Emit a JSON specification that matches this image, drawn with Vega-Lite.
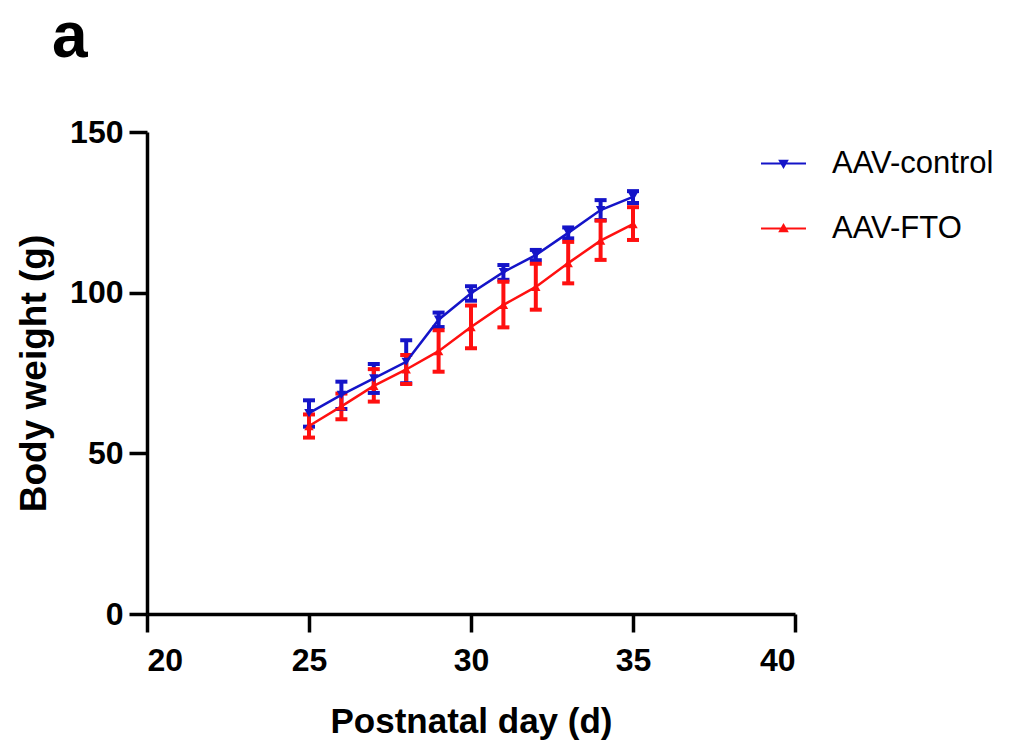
{
  "$schema": "https://vega.github.io/schema/vega-lite/v6.json",
  "width": 648,
  "height": 482,
  "autosize": "none",
  "padding": {"left": 147, "top": 132, "right": 228, "bottom": 138},
  "background": "white",
  "title": {"text": "a", "anchor": "start", "frame": "group", "fontSize": 64, "fontWeight": "bold", "font": "Liberation Sans", "color": "black", "dx": -95, "offset": 46},
  "config": {
    "view": {"stroke": null},
    "font": "Liberation Sans",
    "axis": {"grid": false, "domainColor": "black", "domainWidth": 3.5, "tickColor": "black", "tickWidth": 3.5, "tickSize": 18, "labelFont": "Liberation Sans", "labelFontWeight": "bold", "labelFontSize": 32, "labelColor": "black", "titleFont": "Liberation Sans", "titleFontWeight": "bold", "titleColor": "black"}
  },
  "data": {"values": [
    {"day": 25, "series": "AAV-control", "mean": 62.5, "lo": 58.3, "hi": 66.5},
    {"day": 26, "series": "AAV-control", "mean": 68.2, "lo": 63.8, "hi": 72.3},
    {"day": 27, "series": "AAV-control", "mean": 73.3, "lo": 68.8, "hi": 77.8},
    {"day": 28, "series": "AAV-control", "mean": 78.5, "lo": 71.8, "hi": 85.2},
    {"day": 29, "series": "AAV-control", "mean": 91.6, "lo": 89.3, "hi": 93.8},
    {"day": 30, "series": "AAV-control", "mean": 99.8, "lo": 97.5, "hi": 102.0},
    {"day": 31, "series": "AAV-control", "mean": 106.4, "lo": 104.0, "hi": 108.6},
    {"day": 32, "series": "AAV-control", "mean": 111.7, "lo": 110.1, "hi": 113.3},
    {"day": 33, "series": "AAV-control", "mean": 118.6, "lo": 116.9, "hi": 120.3},
    {"day": 34, "series": "AAV-control", "mean": 125.7, "lo": 122.6, "hi": 128.8},
    {"day": 35, "series": "AAV-control", "mean": 129.8, "lo": 127.9, "hi": 131.6},
    {"day": 25, "series": "AAV-FTO", "mean": 58.5, "lo": 54.9, "hi": 62.1},
    {"day": 26, "series": "AAV-FTO", "mean": 64.6, "lo": 60.6, "hi": 68.6},
    {"day": 27, "series": "AAV-FTO", "mean": 71.0, "lo": 66.1, "hi": 76.2},
    {"day": 28, "series": "AAV-FTO", "mean": 76.1, "lo": 71.6, "hi": 80.6},
    {"day": 29, "series": "AAV-FTO", "mean": 81.8, "lo": 75.4, "hi": 88.3},
    {"day": 30, "series": "AAV-FTO", "mean": 89.3, "lo": 82.7, "hi": 96.0},
    {"day": 31, "series": "AAV-FTO", "mean": 96.2, "lo": 89.2, "hi": 103.4},
    {"day": 32, "series": "AAV-FTO", "mean": 101.8, "lo": 94.7, "hi": 109.0},
    {"day": 33, "series": "AAV-FTO", "mean": 109.2, "lo": 102.9, "hi": 115.8},
    {"day": 34, "series": "AAV-FTO", "mean": 116.2, "lo": 110.2, "hi": 122.4},
    {"day": 35, "series": "AAV-FTO", "mean": 121.3, "lo": 116.4, "hi": 126.6}
  ]},
  "encoding": {
    "x": {"field": "day", "type": "quantitative", "scale": {"domain": [20, 40], "nice": false, "zero": false}, "axis": {"values": [20, 25, 30, 35, 40], "title": "Postnatal day (d)", "titleFontSize": 35, "labelPadding": 13, "titlePadding": 28}},
    "color": {"field": "series", "type": "nominal", "scale": {"domain": ["AAV-control", "AAV-FTO"], "range": ["#1414c8", "#ff1010"]},
      "legend": {"title": null, "orient": "none", "legendX": 613, "legendY": 8, "padding": 0, "symbolSize": 2025, "symbolStrokeWidth": 2, "labelFontSize": 31, "labelFont": "Liberation Sans", "labelColor": "black", "labelOffset": 25, "rowPadding": 26, "labelLimit": 300,
        "encode": {"symbols": {"update": {
          "shape": {"signal": "datum.value === 'AAV-control' ? 'M-1,0L1,0M-0.16,-0.12L0.16,-0.12L0,0.16Z' : 'M-1,0L1,0M-0.16,0.12L0.16,0.12L0,-0.16Z'"},
          "fill": {"signal": "datum.value === 'AAV-control' ? '#1414c8' : '#ff1010'"},
          "stroke": {"signal": "datum.value === 'AAV-control' ? '#1414c8' : '#ff1010'"},
          "strokeWidth": {"value": 2},
          "opacity": {"value": 1}
        }}}
      }
    }
  },
  "layer": [
    {
      "mark": {"type": "rule", "strokeWidth": 4, "opacity": 1},
      "encoding": {
        "y": {"field": "lo", "type": "quantitative", "scale": {"domain": [0, 150], "nice": false}, "axis": {"values": [0, 50, 100, 150], "title": "Body weight (g)", "titleFontSize": 37, "labelPadding": 6, "titlePadding": 16}},
        "y2": {"field": "hi"}
      }
    },
    {
      "mark": {"type": "tick", "orient": "horizontal", "size": 12, "thickness": 4, "opacity": 1},
      "encoding": {"y": {"field": "lo", "type": "quantitative"}}
    },
    {
      "mark": {"type": "tick", "orient": "horizontal", "size": 12, "thickness": 4, "opacity": 1},
      "encoding": {"y": {"field": "hi", "type": "quantitative"}}
    },
    {
      "mark": {"type": "line", "strokeWidth": 2.5},
      "encoding": {"y": {"field": "mean", "type": "quantitative"}}
    },
    {
      "transform": [{"filter": "datum.series === 'AAV-control'"}],
      "mark": {"type": "point", "filled": true, "opacity": 1, "size": 90, "shape": "triangle-down"},
      "encoding": {"y": {"field": "mean", "type": "quantitative"}}
    },
    {
      "transform": [{"filter": "datum.series === 'AAV-FTO'"}],
      "mark": {"type": "point", "filled": true, "opacity": 1, "size": 90, "shape": "triangle-up"},
      "encoding": {"y": {"field": "mean", "type": "quantitative"}}
    }
  ]
}
